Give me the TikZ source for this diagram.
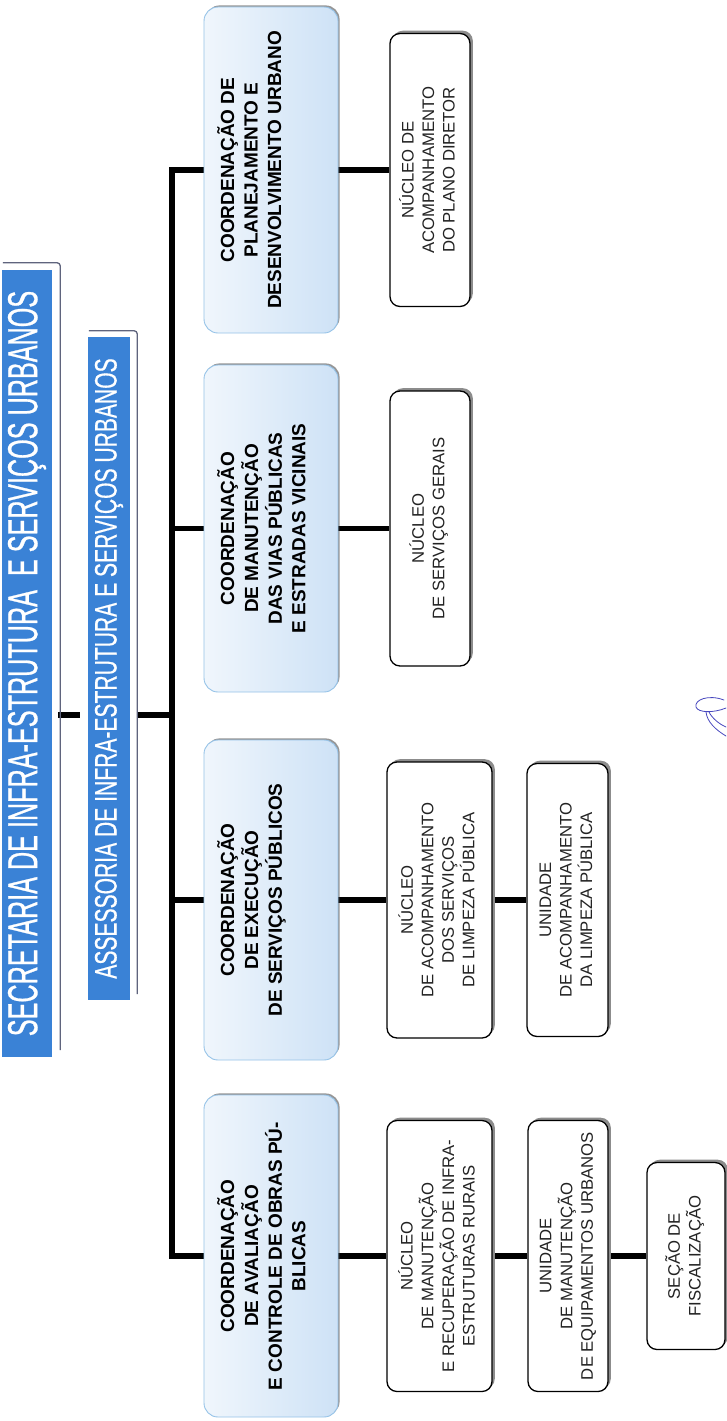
\documentclass[tikz,border=0pt]{standalone}
\usepackage{fontspec}
\setmainfont{Liberation Sans}
\newfontfamily\headfont[FakeStretch=0.6,FakeBold=0.6]{Liberation Sans}
\newfontfamily\subheadfont[FakeStretch=0.68,FakeBold=0.4]{Liberation Sans}
\usetikzlibrary{shadows}
\pgfdeclarelayer{bg}
\pgfsetlayers{bg,main}

\definecolor{secblue}{RGB}{58,130,214}
\definecolor{coordlight}{RGB}{240,246,252}
\definecolor{coorddark}{RGB}{206,226,246}
\definecolor{coordedge}{RGB}{150,195,232}
\definecolor{frameline}{RGB}{95,100,125}
\definecolor{ink}{RGB}{35,35,35}
\definecolor{pen}{RGB}{70,70,190}

\tikzset{
  headbox/.style={fill=secblue, draw=none, inner sep=0pt, text=white},
  headframe/.style={draw=frameline, line width=1.3pt, rounded corners=3pt},
  coordbox/.style={rounded corners=14pt, draw=coordedge, line width=0.9pt,
    left color=coordlight, right color=coorddark, inner sep=0pt,
    drop shadow={shadow xshift=1.6pt, shadow yshift=1.6pt, fill=black!75, opacity=0.55}},
  cotext/.style={inner sep=0pt, anchor=west, text=black,
    font=\fontsize{19}{23.5}\selectfont\bfseries},
  subbox/.style={rounded corners=10pt, draw=black, line width=1.3pt, fill=white,
    inner sep=0pt, text=ink, font=\fontsize{16.7}{20.5}\selectfont,
    drop shadow={shadow xshift=2.8pt, shadow yshift=2.8pt, fill=black!45, opacity=1}},
  conn/.style={draw=black, line width=5.5pt},
  signature/.style={draw=pen, line width=0.8pt, line cap=round}
}
\newcommand{\vlines}[1]{\rotatebox{90}{\begin{tabular}{@{}c@{}}#1\end{tabular}}}

\begin{document}
\begin{tikzpicture}[x=1pt,y=-1pt]
\useasboundingbox (0,0) rectangle (726,1421);
\begin{pgfonlayer}{bg}
\fill[white] (0,0) rectangle (726,1421);
\end{pgfonlayer}

% secretaria and its advisory unit
\node[headbox, minimum width=50pt, minimum height=787pt] (sec) at (27,663.5)
  {\rotatebox{90}{\headfont\fontsize{42}{42}\selectfont SECRETARIA DE INFRA-ESTRUTURA~~E SERVIÇOS URBANOS}};
\draw[headframe] ([xshift=1pt,yshift=7pt]sec.north west) -- ([xshift=8pt,yshift=7pt]sec.north east) -- ([xshift=8pt,yshift=7pt]sec.south east);

\node[headbox, minimum width=42pt, minimum height=663pt] (ass) at (109,668.5)
  {\rotatebox{90}{\subheadfont\fontsize{31}{31}\selectfont ASSESSORIA DE INFRA-ESTRUTURA E SERVIÇOS URBANOS}};
\draw[headframe] ([xshift=1pt,yshift=6pt]ass.north west) -- ([xshift=7pt,yshift=6pt]ass.north east) -- ([xshift=7pt,yshift=6pt]ass.south east);

\coordinate (bus) at (172,0);
\coordinate (junction) at (172,715);

% coordinations
\node[coordbox, minimum width=134pt, minimum height=326pt] (c1) at (271,170) {};
\node[coordbox, minimum width=134pt, minimum height=327pt] (c2) at (271,528.5) {};
\node[coordbox, minimum width=134pt, minimum height=320pt] (c3) at (271,900) {};
\node[coordbox, minimum width=134pt, minimum height=322pt] (c4) at (271,1256) {};

\node[cotext] (t1) at ([xshift=13.4pt]c1.west) {\vlines{COORDENAÇÃO DE\\PLANEJAMENTO E\\DESENVOLVIMENTO URBANO}};
\node[cotext] (t2) at ([xshift=13.4pt]c2.west) {\vlines{COORDENAÇÃO\\DE MANUTENÇÃO\\DAS VIAS PÚBLICAS\\E ESTRADAS VICINAIS}};
\node[cotext] (t3) at ([xshift=13.4pt]c3.west) {\vlines{COORDENAÇÃO\\DE EXECUÇÃO\\DE SERVIÇOS PÚBLICOS}};
\node[cotext] (t4) at ([xshift=13.4pt]c4.west) {\vlines{COORDENAÇÃO\\DE AVALIAÇÃO\\E CONTROLE DE OBRAS PÚ-\\BLICAS}};

% units under each coordination
\node[subbox, minimum width=80pt, minimum height=273pt] (p1) at (430,170)
  {\vlines{NÚCLEO DE\\ACOMPANHAMENTO\\DO PLANO DIRETOR}};
\node[subbox, minimum width=80pt, minimum height=275pt] (v1) at (430,528.5)
  {\vlines{NÚCLEO\\DE SERVIÇOS GERAIS}};
\node[subbox, minimum width=105pt, minimum height=276pt] (e1) at (439.5,900)
  {\vlines{NÚCLEO\\DE ACOMPANHAMENTO\\DOS SERVIÇOS\\DE LIMPEZA PÚBLICA}};
\node[subbox, minimum width=81pt, minimum height=273pt] (e2) at (567.5,900)
  {\vlines{UNIDADE\\DE ACOMPANHAMENTO\\DA LIMPEZA PÚBLICA}};
\node[subbox, minimum width=105pt, minimum height=271pt] (a1) at (439.5,1256)
  {\vlines{NÚCLEO\\DE MANUTENÇÃO\\E RECUPERAÇÃO DE INFRA-\\ESTRUTURAS RURAIS}};
\node[subbox, minimum width=80pt, minimum height=271pt] (a2) at (568,1256)
  {\vlines{UNIDADE\\DE MANUTENÇÃO\\DE EQUIPAMENTOS URBANOS}};
\node[subbox, minimum width=78pt, minimum height=187pt] (a3) at (686,1256)
  {\vlines{SEÇÃO DE\\FISCALIZAÇÃO}};

% connectors
\begin{pgfonlayer}{bg}
\draw[conn] ([xshift=6pt]sec.east |- junction) -- ([xshift=-8pt]ass.west |- junction);
\draw[conn] ([xshift=7pt]ass.east |- junction) -- (junction);
\draw[conn] (c1.west) -- (c1.west -| bus) -- (c4.west -| bus) -- (c4.west);
\draw[conn] (c2.west) -- (c2.west -| bus);
\draw[conn] (c3.west) -- (c3.west -| bus);
\draw[conn] (c1.east) -- (p1.west);
\draw[conn] (c2.east) -- (v1.west);
\draw[conn] (c3.east) -- (e1.west);
\draw[conn] (e1.east) -- (e2.west);
\draw[conn] (c4.east) -- (a1.west);
\draw[conn] (a1.east) -- (a2.west);
\draw[conn] (a2.east) -- (a3.west);
\end{pgfonlayer}

% handwritten initials
\draw[signature] (724,700) .. controls (708,694) and (694,700) .. (696,707)
  .. controls (698,713) and (714,713) .. (726,708);
\draw[signature] (706,712) .. controls (707,722) and (716,730) .. (726,736);
\draw[signature] (709,712) .. controls (712,718) and (719,724) .. (726,727);
\end{tikzpicture}
\end{document}
